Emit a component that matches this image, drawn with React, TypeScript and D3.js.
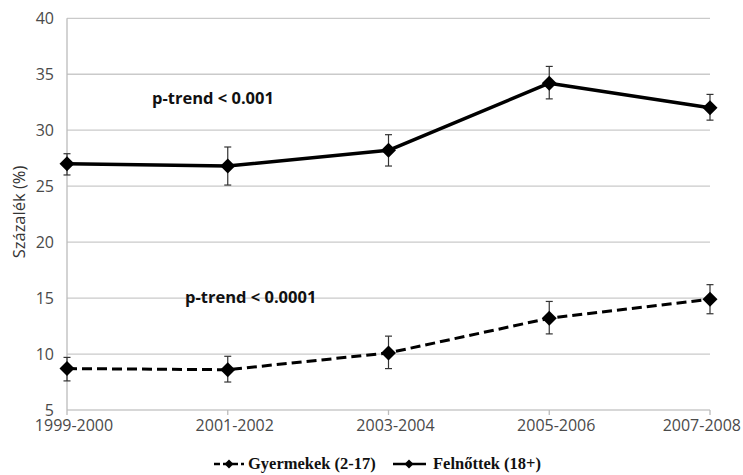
import React from "react";
import * as d3 from "d3";

const categories = ["1999-2000", "2001-2002", "2003-2004", "2005-2006", "2007-2008"];
const adults = [27.0, 26.8, 28.2, 34.2, 32.0];
const adultsLow = [26.0, 25.1, 26.8, 32.8, 30.9];
const adultsHigh = [27.9, 28.5, 29.6, 35.7, 33.2];
const children = [8.7, 8.6, 10.1, 13.2, 14.9];
const childrenLow = [7.6, 7.5, 8.7, 11.8, 13.6];
const childrenHigh = [9.7, 9.8, 11.6, 14.7, 16.2];
const yTicks = [5, 10, 15, 20, 25, 30, 35, 40];
const legendLabels = ["Gyermekek (2-17)", "Felnőttek (18+)"];
const annotations = ["p-trend < 0.001", "p-trend < 0.0001"];

const W = 743;
const H = 475;
const left = 67;
const right = 710;
const top = 18.3;
const bottom = 410;

export default function App() {
  const x = d3.scalePoint<string>().domain(categories).range([left, right]).padding(0);
  const y = d3.scaleLinear().domain([5, 40]).range([bottom, top]);
  const line = d3
    .line<number>()
    .x((_, i) => x(categories[i])!)
    .y((d) => y(d));

  const diamond = (cx: number, cy: number, r: number) =>
    `M${cx},${cy - r}L${cx + r},${cy}L${cx},${cy + r}L${cx - r},${cy}Z`;

  const errorBars = (vals: number[], lo: number[], hi: number[], key: string) =>
    vals.map((_, i) => {
      const cx = x(categories[i])!;
      return (
        <g key={key + i} stroke="#333" strokeWidth={1.2}>
          <line x1={cx} x2={cx} y1={y(hi[i])} y2={y(lo[i])} />
          <line x1={cx - 3.5} x2={cx + 3.5} y1={y(hi[i])} y2={y(hi[i])} />
          <line x1={cx - 3.5} x2={cx + 3.5} y1={y(lo[i])} y2={y(lo[i])} />
        </g>
      );
    });

  const font = "'Open Sans', sans-serif";

  return (
    <svg width={W} height={H} style={{ position: "absolute", left: 0, top: 0, background: "#fff" }}>
      <rect width={W} height={H} fill="#fff" />
      {yTicks.map((t) => (
        <g key={t}>
          <line x1={left} x2={right} y1={y(t)} y2={y(t)} stroke="#cacaca" strokeWidth={1.3} />
          <text x={54} y={y(t)} dy="0.35em" textAnchor="end" fontFamily={font} fontSize={16} fill="#4a4a4a">
            {t}
          </text>
        </g>
      ))}
      <line x1={left} x2={left} y1={top} y2={bottom} stroke="#bcbcbc" strokeWidth={1.3} />
      {categories.map((c, i) => {
        const last = i === categories.length - 1;
        return (
          <g key={c}>
            <line x1={x(c)!} x2={x(c)!} y1={bottom} y2={bottom + 5} stroke="#bcbcbc" strokeWidth={1.3} />
            <text
              x={last ? W - 2 : x(c)! + 7}
              y={bottom + 21}
              textAnchor={last ? "end" : "middle"}
              fontFamily={font}
              fontSize={16}
              fill="#4a4a4a"
            >
              {c}
            </text>
          </g>
        );
      })}
      <text
        transform={`translate(25,212) rotate(-90)`}
        textAnchor="middle"
        fontFamily={font}
        fontSize={16.5}
        fill="#333"
      >
        Százalék (%)
      </text>

      {errorBars(adults, adultsLow, adultsHigh, "a")}
      {errorBars(children, childrenLow, childrenHigh, "c")}

      <path d={line(adults)!} fill="none" stroke="#000" strokeWidth={3.5} strokeLinejoin="round" />
      <path d={line(children)!} fill="none" stroke="#000" strokeWidth={3} strokeDasharray="10,5" />
      {adults.map((v, i) => (
        <path key={"ad" + i} d={diamond(x(categories[i])!, y(v), 7.5)} fill="#000" />
      ))}
      {children.map((v, i) => (
        <path key={"cd" + i} d={diamond(x(categories[i])!, y(v), 7.5)} fill="#000" />
      ))}

      <text x={152} y={104} fontFamily={font} fontWeight="bold" fontSize={16.5} fill="#111">
        {annotations[0]}
      </text>
      <text x={185} y={303} fontFamily={font} fontWeight="bold" fontSize={16.5} fill="#111">
        {annotations[1]}
      </text>

      <g>
        <line x1={214} x2={244} y1={464} y2={464} stroke="#000" strokeWidth={2.5} strokeDasharray="6,3" />
        <path d={diamond(229, 464, 4.5)} fill="#000" />
        <text x={248} y={469} fontFamily="'Liberation Serif', serif" fontWeight="bold" fontSize={16.5} fill="#111">
          {legendLabels[0]}
        </text>
        <line x1={393} x2={426} y1={464} y2={464} stroke="#000" strokeWidth={2.5} />
        <path d={diamond(409, 464, 4.5)} fill="#000" />
        <text x={433} y={469} fontFamily="'Liberation Serif', serif" fontWeight="bold" fontSize={16.5} fill="#111">
          {legendLabels[1]}
        </text>
      </g>
    </svg>
  );
}
